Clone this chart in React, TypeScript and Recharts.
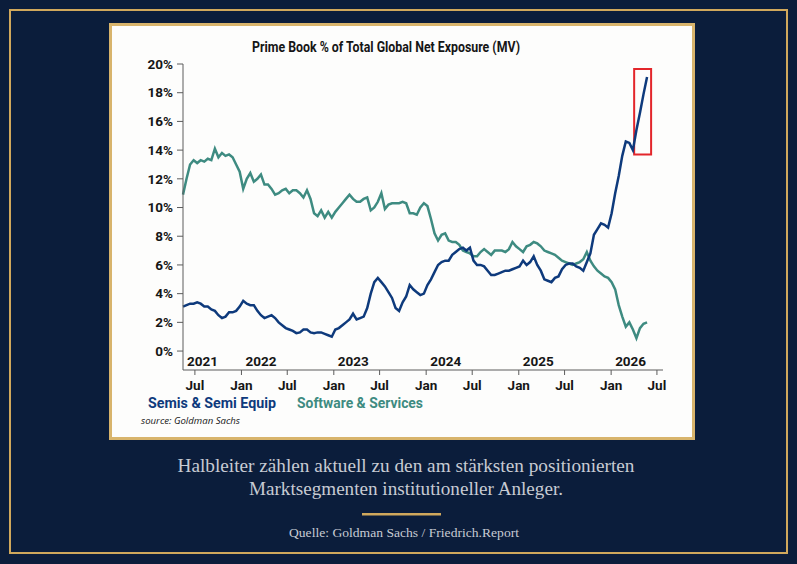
import {
  Line,
  LineChart,
  ReferenceArea,
  ReferenceLine,
  XAxis,
  YAxis,
} from "recharts";

const NAVY = "#0b1d3b";
const GOLD = "#d0a85c";
const SEMIS_BLUE = "#0e3a7c";
const SOFTWARE_TEAL = "#3e8b81";
const INK = "#161616";
const AXIS_GREY = "#5c5c5c";
const CAPTION = "#c7cbd3";

const DAY_MS = 86_400_000;
// fortnightly samples starting mid-May 2021
const SERIES_START = Date.UTC(2021, 4, 15);
const SAMPLE_EVERY_DAYS = 14;

// Prime book % of total global net exposure (MV)
const semis = [
  3.1, 3.2, 3.3, 3.3, 3.4, 3.3, 3.1, 3.1, 2.9, 2.8,
  2.5, 2.3, 2.4, 2.7, 2.7, 2.8, 3.1, 3.5, 3.3, 3.2,
  3.2, 2.8, 2.5, 2.3, 2.4, 2.5, 2.3, 2.0, 1.8, 1.6,
  1.5, 1.4, 1.25, 1.3, 1.5, 1.5, 1.3, 1.25, 1.3, 1.3,
  1.2, 1.1, 1.0, 1.5, 1.6, 1.8, 2.0, 2.2, 2.6, 2.2,
  2.3, 2.4, 3.0, 4.0, 4.8, 5.1, 4.8, 4.5, 4.1, 3.7,
  3.0, 2.8, 3.4, 3.8, 4.6, 4.3, 4.1, 3.9, 4.0, 4.6,
  5.0, 5.5, 6.0, 6.2, 6.3, 6.3, 6.7, 6.9, 7.1, 7.2,
  7.0, 7.2, 6.3, 6.0, 6.0, 5.9, 5.6, 5.3, 5.3, 5.4,
  5.5, 5.6, 5.6, 5.7, 5.8, 5.9, 6.3, 6.0, 6.2, 6.6,
  6.0, 5.6, 5.0, 4.9, 4.8, 5.1, 5.2, 5.7, 6.0, 6.1,
  6.1, 5.9, 5.8, 5.6, 6.2, 6.8, 8.1, 8.5, 8.9, 8.8,
  8.6, 9.6, 11.0, 12.2, 13.6, 14.6, 14.5, 14.0, 15.4, 16.6,
  17.9, 19.1,
];

const software = [
  10.9, 12.0, 13.0, 13.3, 13.1, 13.3, 13.2, 13.4, 13.3, 14.1,
  13.5, 13.8, 13.6, 13.7, 13.5, 13.0, 12.5, 11.3, 12.0, 12.4,
  11.8, 12.0, 12.3, 11.6, 11.6, 11.3, 10.9, 11.0, 11.2, 11.3,
  11.0, 11.2, 11.2, 11.0, 10.7, 11.2, 10.6, 9.6, 9.4, 9.8,
  9.3, 9.7, 9.3, 9.7, 10.0, 10.3, 10.6, 10.9, 10.6, 10.4,
  10.4, 10.6, 10.7, 9.8, 10.0, 10.4, 11.0, 9.9, 10.2, 10.3,
  10.3, 10.3, 10.4, 10.3, 9.6, 9.6, 9.5, 10.0, 10.3, 10.1,
  9.2, 8.2, 7.7, 8.1, 8.2, 7.7, 7.6, 7.6, 7.4, 7.0,
  6.9, 6.8, 6.6, 6.6, 6.9, 7.1, 6.9, 6.7, 7.0, 7.0,
  7.0, 6.9, 7.1, 7.6, 7.3, 7.1, 6.9, 7.3, 7.4, 7.6,
  7.5, 7.3, 7.0, 6.9, 6.8, 6.7, 6.5, 6.3, 6.2, 6.1,
  6.0, 6.1, 6.2, 6.4, 6.9, 6.3, 5.9, 5.6, 5.4, 5.2,
  5.1, 4.8, 4.3, 3.2, 2.4, 1.7, 2.0, 1.5, 0.9, 1.6,
  1.9, 2.0,
];

const monthTicks = [
  Date.UTC(2021, 6, 1),
  Date.UTC(2022, 0, 1),
  Date.UTC(2022, 6, 1),
  Date.UTC(2023, 0, 1),
  Date.UTC(2023, 6, 1),
  Date.UTC(2024, 0, 1),
  Date.UTC(2024, 6, 1),
  Date.UTC(2025, 0, 1),
  Date.UTC(2025, 6, 1),
  Date.UTC(2026, 0, 1),
  Date.UTC(2026, 6, 1),
];

const yearMarks = [
  { year: "2021", t: SERIES_START },
  { year: "2022", t: Date.UTC(2022, 0, 1) },
  { year: "2023", t: Date.UTC(2023, 0, 1) },
  { year: "2024", t: Date.UTC(2024, 0, 1) },
  { year: "2025", t: Date.UTC(2025, 0, 1) },
  { year: "2026", t: Date.UTC(2026, 0, 1) },
];

const yTicks = [0, 2, 4, 6, 8, 10, 12, 14, 16, 18, 20];

const X_DOMAIN = [SERIES_START, Date.UTC(2026, 6, 25)];
const Y_DOMAIN = [-1.32, 20];

// red box around the latest semis run-up
const highlight = {
  from: Date.UTC(2026, 3, 2),
  to: Date.UTC(2026, 5, 8),
  low: 13.7,
  high: 19.65,
};

const rows = semis.map((s, i) => ({
  t: SERIES_START + i * SAMPLE_EVERY_DAYS * DAY_MS,
  semis: s,
  software: software[i],
}));

const MONTHS = ["Jan", "Feb", "Mar", "Apr", "May", "Jun", "Jul", "Aug", "Sep", "Oct", "Nov", "Dec"];

function fmtMonth(v: number): string {
  return MONTHS[new Date(v).getUTCMonth()];
}

const tickFont = {
  fill: INK,
  fontSize: 13.5,
  fontWeight: 700,
  fontFamily: "Roboto, sans-serif",
};

export default function App() {
  return (
    <div
      style={{
        position: "absolute",
        left: 0,
        top: 0,
        width: 797,
        height: 564,
        background: NAVY,
        overflow: "hidden",
      }}
    >
      <svg width={797} height={564} style={{ position: "absolute", left: 0, top: 0 }}>
        <rect x={10} y={10} width={777} height={543} fill="none" stroke={GOLD} strokeWidth={2} />
        <rect x={110.5} y={24.5} width={583} height={414} fill="#fdfdfc" stroke="#d8b46c" strokeWidth={3} />

        <text
          x={386}
          y={52}
          textAnchor="middle"
          fontFamily="Roboto, sans-serif"
          fontWeight={700}
          fontSize={15.5}
          fill={INK}
          textLength={268}
          lengthAdjust="spacingAndGlyphs"
        >
          Prime Book % of Total Global Net Exposure (MV)
        </text>

        <text
          x={148}
          y={408}
          fontFamily="Roboto, sans-serif"
          fontWeight={700}
          fontSize={15}
          fill={SEMIS_BLUE}
          textLength={128}
          lengthAdjust="spacingAndGlyphs"
        >
          Semis &amp; Semi Equip
        </text>
        <text
          x={297}
          y={408}
          fontFamily="Roboto, sans-serif"
          fontWeight={700}
          fontSize={15}
          fill={SOFTWARE_TEAL}
          textLength={126}
          lengthAdjust="spacingAndGlyphs"
        >
          Software &amp; Services
        </text>
        <text
          x={141}
          y={424}
          fontFamily="'Open Sans', sans-serif"
          fontStyle="italic"
          fontSize={9.5}
          fill={INK}
          textLength={99}
          lengthAdjust="spacingAndGlyphs"
        >
          source: Goldman Sachs
        </text>

        <text
          x={406}
          y={472}
          textAnchor="middle"
          fontFamily="'Liberation Serif', serif"
          fontSize={19}
          fill={CAPTION}
          textLength={457}
          lengthAdjust="spacingAndGlyphs"
        >
          Halbleiter zählen aktuell zu den am stärksten positionierten
        </text>
        <text
          x={406}
          y={495}
          textAnchor="middle"
          fontFamily="'Liberation Serif', serif"
          fontSize={19}
          fill={CAPTION}
          textLength={314}
          lengthAdjust="spacingAndGlyphs"
        >
          Marktsegmenten institutioneller Anleger.
        </text>
        <rect x={362} y={513} width={79} height={2.5} fill={GOLD} />
        <text
          x={404}
          y={537}
          textAnchor="middle"
          fontFamily="'Liberation Serif', serif"
          fontSize={13.5}
          fill={CAPTION}
          textLength={230}
          lengthAdjust="spacingAndGlyphs"
        >
          Quelle: Goldman Sachs / Friedrich.Report
        </text>
      </svg>

      <div style={{ position: "absolute", left: 110, top: 24 }}>
        <LineChart
          width={584}
          height={415}
          data={rows}
          margin={{ top: 40, right: 31, left: 0, bottom: 0 }}
        >
          <XAxis
            dataKey="t"
            type="number"
            domain={X_DOMAIN}
            ticks={monthTicks}
            tickFormatter={fmtMonth}
            interval={0}
            height={69}
            tickSize={5}
            tickMargin={5}
            stroke={AXIS_GREY}
            tick={tickFont}
          />
          {/* top / right edges of the plot frame */}
          <XAxis
            xAxisId="frame"
            orientation="top"
            dataKey="t"
            type="number"
            domain={X_DOMAIN}
            height={0}
            tick={false}
            tickLine={false}
            stroke="#7a7a7a"
          />
          <YAxis
            type="number"
            domain={Y_DOMAIN}
            ticks={yTicks}
            interval={0}
            tickFormatter={(v) => `${v}%`}
            width={73}
            tickSize={6}
            tickMargin={4}
            stroke={AXIS_GREY}
            tick={tickFont}
          />
          <YAxis
            yAxisId="frame"
            orientation="right"
            type="number"
            domain={[0, 1]}
            width={0}
            tick={false}
            tickLine={false}
            stroke="#7a7a7a"
          />
          {yearMarks.map((m) => (
            <ReferenceLine
              key={m.year}
              x={m.t}
              stroke="none"
              label={{
                value: m.year,
                position: "insideBottomLeft",
                offset: 4,
                ...tickFont,
              }}
            />
          ))}
          <Line
            dataKey="software"
            type="linear"
            stroke={SOFTWARE_TEAL}
            strokeWidth={2.5}
            dot={false}
            isAnimationActive={false}
          />
          <Line
            dataKey="semis"
            type="linear"
            stroke={SEMIS_BLUE}
            strokeWidth={2.5}
            dot={false}
            isAnimationActive={false}
          />
          <ReferenceArea
            x1={highlight.from}
            x2={highlight.to}
            y1={highlight.low}
            y2={highlight.high}
            fill="none"
            stroke="#e3262b"
            strokeWidth={2}
          />
        </LineChart>
      </div>
    </div>
  );
}
